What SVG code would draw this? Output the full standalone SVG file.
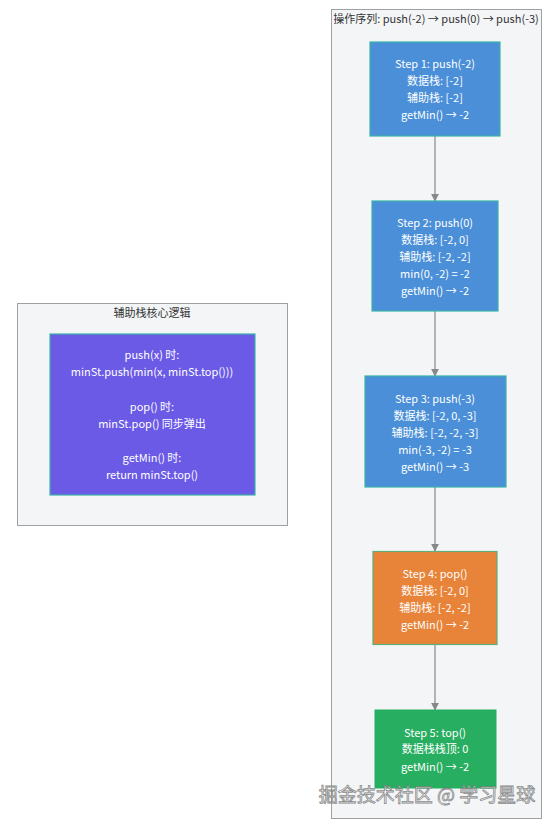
<svg xmlns="http://www.w3.org/2000/svg" width="551" height="825" viewBox="0 0 551 825">
<defs>
<marker id="arr" viewBox="0 0 10 10" refX="9" refY="5" markerWidth="8" markerHeight="8" orient="auto" markerUnits="userSpaceOnUse">
<path d="M0,0 L10,5 L0,10 z" fill="#888888"/>
</marker>
</defs>
<style>
text{font-family:"Microsoft YaHei","Noto Sans CJK SC","Noto Sans",sans-serif;font-size:11px;text-anchor:middle}
.cl{fill:#f3f5f7;stroke:#a0a0a0;stroke-width:1}
.ct{fill:#333333;font-size:11px}
.n{stroke:#3bb3a8;stroke-width:1.2}
.w{fill:#ffffff}
.e{stroke:#888888;stroke-width:1.2;fill:none;marker-end:url(#arr)}
</style>
<rect width="551" height="825" fill="#ffffff"/>
<g id="cluster-logic">
<rect class="cl" x="17.5" y="303.5" width="270" height="222"/>
<text class="ct" x="152" y="317">辅助栈核心逻辑</text>
</g>
<g id="cluster-seq">
<rect class="cl" x="331.5" y="9.5" width="210" height="809"/>
<text class="ct" x="436" y="23">操作序列: push(-2) → push(0) → push(-3)</text>
</g>
<g id="logic">
<rect class="n" x="50" y="334" width="205" height="161" fill="#6a5ae6"/>
<text class="w" x="152" y="359">push(x) 时:</text>
<text class="w" x="152" y="376">minSt.push(min(x, minSt.top()))</text>
<text class="w" x="152" y="411">pop() 时:</text>
<text class="w" x="152" y="428">minSt.pop() 同步弹出</text>
<text class="w" x="152" y="462">getMin() 时:</text>
<text class="w" x="152" y="479">return minSt.top()</text>
</g>
<g id="edges">
<line class="e" x1="435" y1="136" x2="435" y2="201"/>
<line class="e" x1="435" y1="311" x2="435" y2="376"/>
<line class="e" x1="435" y1="487" x2="435" y2="551"/>
<line class="e" x1="435" y1="644" x2="435" y2="710"/>
</g>
<g id="step1">
<rect class="n" x="370" y="42" width="130" height="94" fill="#4a8fd8"/>
<text class="w" x="435" y="68">Step 1: push(-2)</text>
<text class="w" x="435" y="85">数据栈: [-2]</text>
<text class="w" x="435" y="102">辅助栈: [-2]</text>
<text class="w" x="435" y="119">getMin() → -2</text>
</g>
<g id="step2">
<rect class="n" x="372" y="201" width="126" height="110" fill="#4a8fd8"/>
<text class="w" x="435" y="227">Step 2: push(0)</text>
<text class="w" x="435" y="244">数据栈: [-2, 0]</text>
<text class="w" x="435" y="261">辅助栈: [-2, -2]</text>
<text class="w" x="435" y="278">min(0, -2) = -2</text>
<text class="w" x="435" y="295">getMin() → -2</text>
</g>
<g id="step3">
<rect class="n" x="365" y="376" width="141" height="111" fill="#4a8fd8"/>
<text class="w" x="435" y="403">Step 3: push(-3)</text>
<text class="w" x="435" y="420">数据栈: [-2, 0, -3]</text>
<text class="w" x="435" y="437">辅助栈: [-2, -2, -3]</text>
<text class="w" x="435" y="454">min(-3, -2) = -3</text>
<text class="w" x="435" y="471">getMin() → -3</text>
</g>
<g id="step4">
<rect x="373" y="551.5" width="124" height="93" fill="#e8843a" stroke="#5cae7a" stroke-width="1.2"/>
<text class="w" x="435" y="578">Step 4: pop()</text>
<text class="w" x="435" y="595">数据栈: [-2, 0]</text>
<text class="w" x="435" y="612">辅助栈: [-2, -2]</text>
<text class="w" x="435" y="629">getMin() → -2</text>
</g>
<g id="step5">
<rect x="375" y="710" width="121" height="78" fill="#27ae60" stroke="#27ae60" stroke-width="1"/>
<text class="w" x="435" y="737">Step 5: top()</text>
<text class="w" x="435" y="753">数据栈栈顶: 0</text>
<text class="w" x="435" y="771">getMin() → -2</text>
</g>
<text x="427" y="802" style="font-size:19px;fill:#ffffff;stroke:#777777;stroke-width:0.8;opacity:0.85">掘金技术社区 @ 学习星球</text>
</svg>
